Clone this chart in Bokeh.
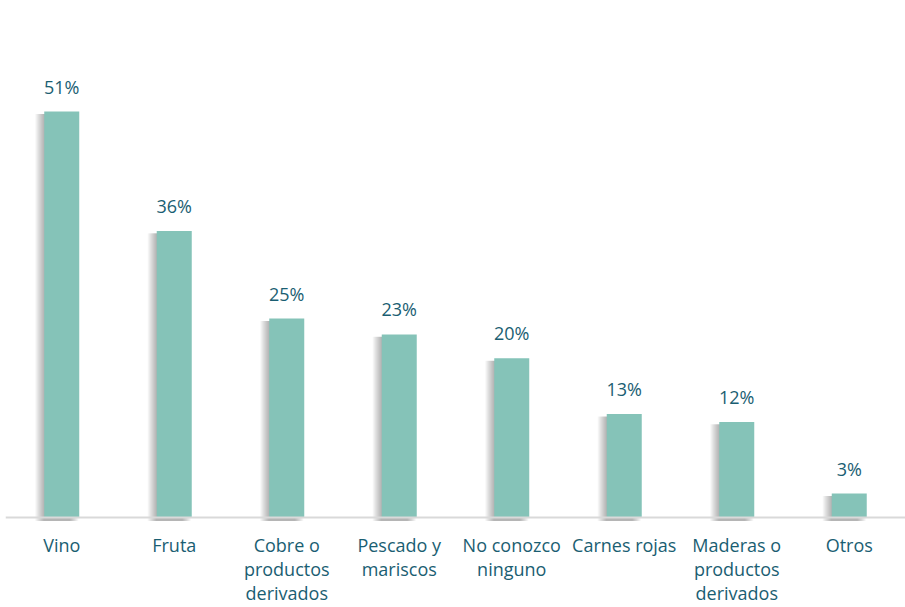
from bokeh.plotting import figure
from bokeh.models import ColumnDataSource, FactorRange, Span
from bokeh.transform import dodge
from bokeh.core.properties import value
from bokeh.embed import file_html
from bokeh.resources import INLINE

categories = ["Vino", "Fruta", "Cobre o productos derivados", "Pescado y mariscos",
              "No conozco ninguno", "Carnes rojas", "Maderas o productos derivados", "Otros"]
axis_labels = ["Vino", "Fruta", "Cobre o\nproductos\nderivados", "Pescado y\nmariscos",
               "No conozco\nninguno", "Carnes rojas", "Maderas o\nproductos\nderivados", "Otros"]
values = [51, 36, 25, 23, 20, 13, 12, 3]
value_labels = [f"{v}%" for v in values]

W, H = 905, 607
BL, BR = 5, 0
px_per_unit = 7.96
base_px = 517
y_end = base_px / px_per_unit
y_start = -(H - base_px) / px_per_unit

src = ColumnDataSource(dict(cat=categories, val=values, lab=value_labels,
                            axl=axis_labels,
                            shtop=[v - 0.3 for v in values],
                            axy=[-1.95] * len(values)))

p = figure(x_range=FactorRange(*categories, range_padding=0), y_range=(y_start, y_end),
           width=W, height=H, output_backend="svg", toolbar_location=None,
           min_border_left=BL, min_border_right=BR, min_border_top=0, min_border_bottom=0)
p.axis.visible = False
p.grid.visible = False
p.outline_line_color = None
p.background_fill_color = "white"

# soft shadow on the left of each bar
cat_px = (W - BL - BR) / len(categories)
bw = 35 / cat_px
for k in range(1, 10):
    p.vbar(x=dodge("cat", -k / cat_px, range=p.x_range), top="shtop", bottom=-0.45,
           width=bw, source=src, fill_color="#000000", fill_alpha=0.035, line_color=None)

# baseline
p.add_layout(Span(location=0, dimension="width", line_color="#D9D9D9", line_width=2))

p.vbar(x="cat", top="val", bottom=0, width=bw, source=src,
       fill_color="#85C3B8", line_color=None)

p.text(x="cat", y="val", text="lab", source=src, text_align="center",
       text_baseline="bottom", y_offset=-13, text_font=value("Open Sans"),
       text_font_size="18px", text_color="#1A5E72")

p.text(x="cat", y="axy", text="axl", source=src, text_align="center",
       text_baseline="top", text_line_height=1.0, text_font=value("Open Sans"),
       text_font_size="18px", text_color="#1A5E72")

open("out.html", "w").write(file_html(p, INLINE))
